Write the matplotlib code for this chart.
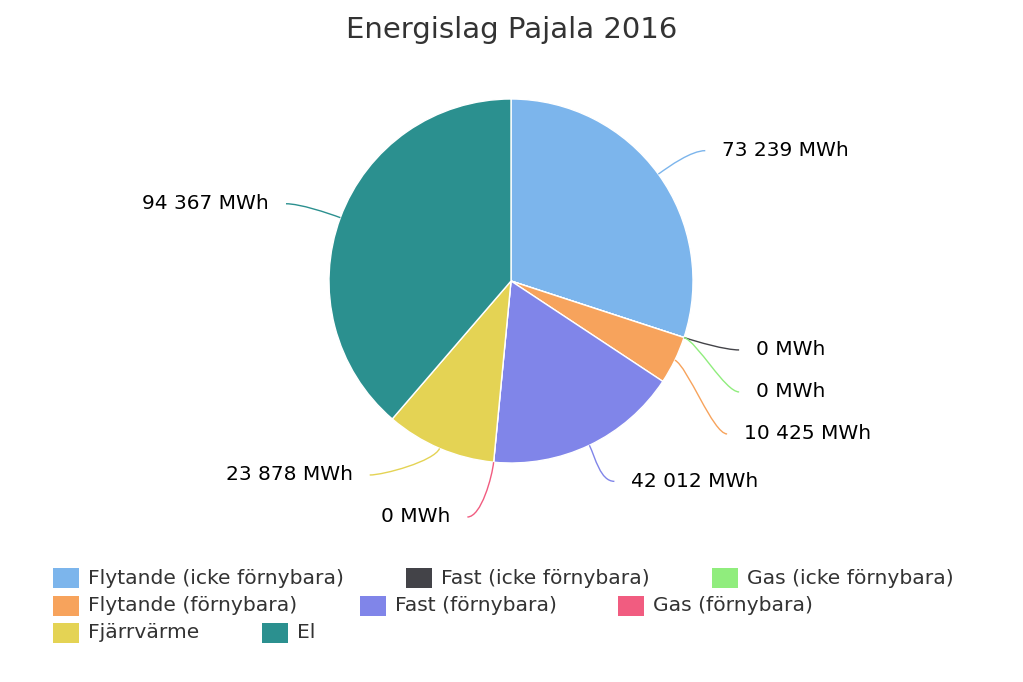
import numpy as np
import matplotlib.pyplot as plt
from matplotlib.path import Path
from matplotlib.patches import PathPatch, Rectangle

categories = ["Flytande (icke förnybara)", "Fast (icke förnybara)", "Gas (icke förnybara)",
              "Flytande (förnybara)", "Fast (förnybara)", "Gas (förnybara)",
              "Fjärrvärme", "El"]
values = [73239, 0, 0, 10425, 42012, 0, 23878, 94367]
labels = ["73 239 MWh", "0 MWh", "0 MWh", "10 425 MWh", "42 012 MWh", "0 MWh",
          "23 878 MWh", "94 367 MWh"]
colors = ["#7cb5ec", "#434348", "#90ed7d", "#f7a35c", "#8085e9", "#f15c80",
          "#e4d354", "#2b908f"]

W, H = 1023, 682
cx, cy, r = 511, 281, 182

plt.rcParams['font.family'] = ['DejaVu Sans']
fig = plt.figure(figsize=(W / 100, H / 100), dpi=100)
ax = fig.add_axes([0, 0, 1, 1])

# y axis runs downward, so counterclockwise in data = clockwise on screen
ax.pie(values, colors=colors, startangle=270, counterclock=True,
       center=(cx, cy), radius=r,
       wedgeprops=dict(edgecolor="white", linewidth=1))
ax.set_xlim(0, W)
ax.set_ylim(H, 0)
ax.axis("off")

fig.text(0.5, 1 - 30 / H, "Energislag Pajala 2016", ha="center", va="center",
         fontsize=21, color="#333333")

# data labels, screen angle measured clockwise from top
total = sum(values)
cum = np.cumsum([0] + values)
mids = [(cum[i] + values[i] / 2) / total * 2 * np.pi for i in range(len(values))]
Ry, Rx = r + 40, r + 58
gap = 42
ymax = cy + r + 54

info = []
for i, th in enumerate(mids):
    right = np.sin(th) >= 0
    y = cy - Ry * np.cos(th)
    info.append(dict(i=i, th=th, right=right, y=y, y0=y))

for side in (True, False):
    items = sorted([d for d in info if d["right"] == side], key=lambda d: d["y"])
    for k in range(1, len(items)):
        items[k]["y"] = max(items[k]["y"], items[k - 1]["y"] + gap)
    if items and items[-1]["y"] > ymax:
        items[-1]["y"] = ymax
        for k in range(len(items) - 2, -1, -1):
            items[k]["y"] = min(items[k]["y"], items[k + 1]["y"] - gap)

for d in info:
    th, y = d["th"], d["y"]
    sgn = 1 if d["right"] else -1
    x = cx + Rx * np.sin(th)
    if abs(y - d["y0"]) > 1:
        dy = np.clip((y - cy) / Rx, -1, 1)
        xg = cx + sgn * Rx * np.cos(np.arcsin(dy))
        x = max(x, xg) if d["right"] else min(x, xg)
    p0 = (cx + r * np.sin(th), cy - r * np.cos(th))
    c1 = (cx + (r + 14) * np.sin(th), cy - (r + 14) * np.cos(th))
    c2 = (x - sgn * 14, y)
    path = Path([p0, c1, c2, (x, y)], [Path.MOVETO, Path.CURVE4, Path.CURVE4, Path.CURVE4])
    ax.add_patch(PathPatch(path, fill=False, edgecolor=colors[d["i"]], linewidth=1))
    ax.text(x + sgn * 17, y, labels[d["i"]], ha="left" if d["right"] else "right",
            va="center", fontsize=14.5, color="black")

# legend, items flow left to right and wrap
renderer = fig.canvas.get_renderer()
fs = 14.6
sym_w, sym_h, pad, item_gap = 26, 20, 9, 62
widths = []
for c in categories:
    t = fig.text(0, 0, c, fontsize=fs)
    widths.append(t.get_window_extent(renderer).width)
    t.remove()

max_w = 930
rows, row, cur = [], [], 0
for i, w in enumerate(widths):
    iw = sym_w + pad + w
    need = iw if not row else cur + item_gap + iw
    if row and need > max_w:
        rows.append((row, cur))
        row, cur = [], 0
        need = iw
    row.append((i, cur if not row else cur + item_gap))
    cur = need
rows.append((row, cur))

leg_w = max(rw for _, rw in rows)
x0 = (W - leg_w) / 2 - 8
y0, row_h = 578, 27.5
for k, (row, _) in enumerate(rows):
    yc = y0 + k * row_h
    for i, off in row:
        ax.add_patch(Rectangle((x0 + off, yc - sym_h / 2), sym_w, sym_h,
                               facecolor=colors[i], edgecolor="none"))
        ax.text(x0 + off + sym_w + pad, yc, categories[i], ha="left", va="center",
                fontsize=fs, color="#333333")

fig.savefig("out.png", dpi=100)
